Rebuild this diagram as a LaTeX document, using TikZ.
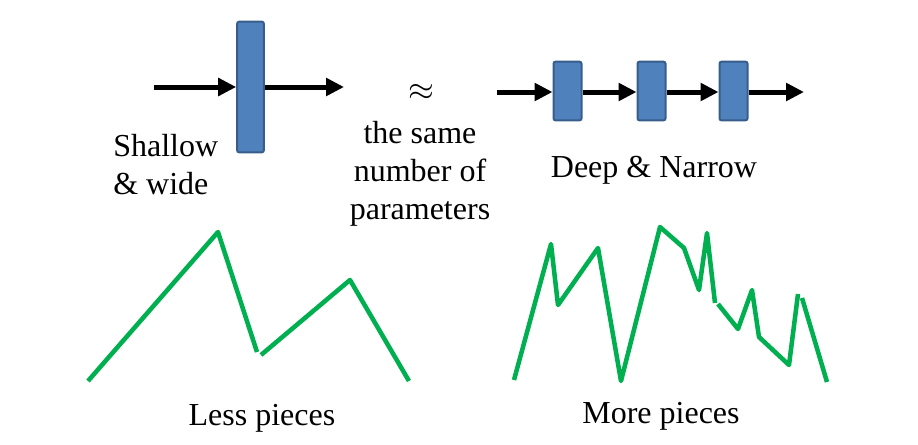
\documentclass[tikz,border=0pt]{standalone}
\usepackage{fontspec}
\setmainfont{Liberation Serif}
\usetikzlibrary{arrows.meta}
\definecolor{blockfill}{HTML}{4F81BD}
\definecolor{blockline}{HTML}{385D8A}
\definecolor{curvegreen}{HTML}{00B050}
\tikzset{
  layer/.style={draw=blockline, fill=blockfill, line width=1.5pt, rounded corners=1.5pt, inner sep=0pt},
  flow/.style={line width=3.75pt, -{Triangle[length=13.5pt,width=13pt]}, shorten <=0pt},
  piece/.style={curvegreen, line width=3.4pt, line join=round},
  label/.style={font=\fontsize{24}{28.5}\selectfont, inner sep=0pt}
}

\begin{document}
\begin{tikzpicture}[x=0.75pt, y=-0.75pt]
      \useasboundingbox (0,0) rectangle (918,444);
      % Shallow & wide
      \node[layer, minimum width=20pt, minimum height=98pt] (wide) at (250.5,87) {};
      \coordinate (win) at (154,87);
      \coordinate (wout) at (344,87);
      \draw[flow] (win) -- (win -| wide.west);
      \draw[flow] (win -| wide.east) -- (wout);
      \node[label, anchor=base west, align=left] (shallow) at (113,194) {Shallow\\\& wide};
      % Equal parameters
      \node[label] (approx) at (421,92) {$\approx$};
      \node[label, anchor=base, align=center] (same) at (420,219) {the same\\number of\\parameters};
      % Deep & narrow
      \foreach \name/\x in {d1/567.5, d2/651.5, d3/733.5}
        \node[layer, minimum width=21pt, minimum height=44pt] (\name) at (\x,91) {};
      \coordinate (din) at (497,92);
      \coordinate (dout) at (804,92);
      \draw[flow] (din) -- (din -| d1.west);
      \draw[flow] (din -| d1.east) -- (din -| d2.west);
      \draw[flow] (din -| d2.east) -- (din -| d3.west);
      \draw[flow] (din -| d3.east) -- (dout);
      \node[label, anchor=base] (deep) at (654,177) {Deep \& Narrow};
      % Less pieces
      \draw[piece] (88,381) -- (218,232) -- (257,352);
      \draw[piece] (261,355) -- (350,280) -- (409,381);
      \node[label, anchor=base] (less) at (262,425) {Less pieces};
      % More pieces
      \draw[piece] (514,380) -- (551,244) -- (558,305) -- (598,248) -- (621,381)
        -- (660,227) -- (684,248) -- (699,290) -- (707,233) -- (715,303);
      \draw[piece] (718,304) -- (738,329) -- (752,290) -- (759,337) -- (789,365)
        -- (798,294);
      \draw[piece] (802,298) -- (827,382);
      \node[label, anchor=base] (more) at (661,423) {More pieces};
\end{tikzpicture}
\end{document}
